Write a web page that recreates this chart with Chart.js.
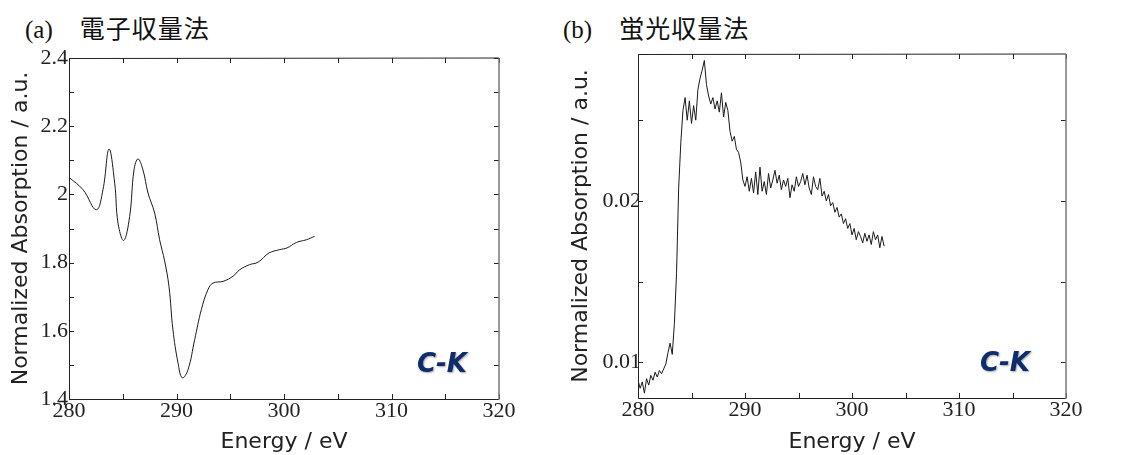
<!DOCTYPE html>
<html>
<head>
<meta charset="utf-8">
<script src="https://cdn.jsdelivr.net/npm/chart.js@4"></script>
<style>
  body { margin: 0; background: #fff; width: 1128px; height: 455px; position: relative; overflow: hidden; }
  .box { position: absolute; top: 0; }
  .ttl { position: absolute; top: 9px; color: #111; white-space: nowrap; }
  .ttl .lbl { font-family: "Liberation Serif", serif; font-size: 25px; }
  .ttl .jp { font-family: "Noto Sans CJK JP", sans-serif; font-size: 25px; margin-left: 27px; letter-spacing: 1px; }
  .ck { position: absolute; font-family: "DejaVu Sans", sans-serif; font-weight: bold; font-style: italic;
        font-size: 26px; color: #0f2d6b; text-shadow: 1px 1px 2px rgba(0,0,0,0.35); }
</style>
</head>
<body>
<div class="ttl" style="left:25px"><span class="lbl">(a)</span><span class="jp">電子収量法</span></div>
<div class="ttl" style="left:563px"><span class="lbl">(b)</span><span class="jp">蛍光収量法</span></div>
<div class="box" style="left:0"><canvas id="chartA" width="560" height="455"></canvas></div>
<div class="box" style="left:560px"><canvas id="chartB" width="568" height="455"></canvas></div>
<div class="ck" style="left:417px; top:348px">C-K</div>
<div class="ck" style="left:980px; top:347px">C-K</div>
<script>
// (a) electron yield
const energyA = [280.0, 281.3, 282.54, 283.16, 283.72, 284.25, 284.56, 285.09, 285.64, 286.05,
  286.42, 286.88, 287.35, 287.97, 288.43, 288.9, 289.3, 289.67, 290.14, 290.54,
  291.07, 291.69, 292.31, 292.93, 293.4, 294.33, 295.26, 295.88, 296.8, 297.58,
  298.6, 299.6, 300.28, 301.15, 302.08, 302.85];
const absA = [2.050, 2.014, 1.955, 2.014, 2.133, 2.033, 1.916, 1.865, 1.935, 2.072,
  2.104, 2.072, 2.004, 1.945, 1.867, 1.804, 1.730, 1.603, 1.506, 1.462,
  1.486, 1.574, 1.662, 1.721, 1.740, 1.745, 1.760, 1.779, 1.794, 1.801,
  1.828, 1.838, 1.843, 1.859, 1.867, 1.877];

// (b) fluorescence yield
const energyB = [280.0, 280.2, 280.4, 280.6, 280.8, 281.0, 281.2, 281.4, 281.6, 281.8,
  282.0, 282.2, 282.4, 282.6, 282.8, 283.0, 283.2, 283.4, 283.6, 283.8,
  284.0, 284.2, 284.4, 284.6, 284.8, 285.0, 285.2, 285.4, 285.6, 285.8,
  286.0, 286.2, 286.4, 286.6, 286.8, 287.0, 287.2, 287.4, 287.6, 287.8,
  288.0, 288.2, 288.4, 288.6, 288.8, 289.0, 289.2, 289.4, 289.6, 289.8,
  290.0, 290.2, 290.4, 290.6, 290.8, 291.0, 291.2, 291.4, 291.6, 291.8,
  292.0, 292.2, 292.4, 292.6, 292.8, 293.0, 293.2, 293.4, 293.6, 293.8,
  294.0, 294.2, 294.4, 294.6, 294.8, 295.0, 295.2, 295.4, 295.6, 295.8,
  296.0, 296.2, 296.4, 296.6, 296.8, 297.0, 297.2, 297.4, 297.6, 297.8,
  298.0, 298.2, 298.4, 298.6, 298.8, 299.0, 299.2, 299.4, 299.6, 299.8,
  300.0, 300.2, 300.4, 300.6, 300.8, 301.0, 301.2, 301.4, 301.6, 301.8,
  302.0, 302.2, 302.4, 302.6, 302.8, 303.0];
const absB = [0.0089, 0.0084, 0.0088, 0.0081, 0.0090, 0.0086, 0.0092, 0.0089, 0.0094, 0.0091,
  0.0095, 0.0093, 0.0096, 0.0099, 0.0106, 0.0112, 0.0105, 0.0124, 0.0155, 0.0208,
  0.0236, 0.0256, 0.0264, 0.0250, 0.0262, 0.0248, 0.0259, 0.0250, 0.0269, 0.0276,
  0.0281, 0.0287, 0.0272, 0.0265, 0.0260, 0.0264, 0.0257, 0.0262, 0.0255, 0.0267,
  0.0252, 0.0261, 0.0256, 0.0243, 0.0237, 0.0240, 0.0232, 0.0230, 0.0224, 0.0213,
  0.0209, 0.0215, 0.0206, 0.0214, 0.0205, 0.0218, 0.0204, 0.0221, 0.0206, 0.0212,
  0.0204, 0.0217, 0.0208, 0.0213, 0.0219, 0.0211, 0.0216, 0.0207, 0.0213, 0.0209,
  0.0214, 0.0202, 0.0210, 0.0206, 0.0215, 0.0209, 0.0212, 0.0217, 0.0210, 0.0216,
  0.0208, 0.0204, 0.0215, 0.0209, 0.0207, 0.0214, 0.0203, 0.0206, 0.0200, 0.0204,
  0.0197, 0.0199, 0.0193, 0.0196, 0.0190, 0.0192, 0.0186, 0.0189, 0.0183, 0.0186,
  0.0179, 0.0183, 0.0176, 0.0181, 0.0178, 0.0174, 0.0180, 0.0175, 0.0179, 0.0173,
  0.0181, 0.0176, 0.0179, 0.0171, 0.0178, 0.0172];

const xTicks = [280, 290, 300, 310, 320];

const near = (v, step) => Math.abs(v / step - Math.round(v / step)) < 1e-6;

// inward ticks on all four sides + frame
const frame = {
  id: "frame",
  afterDraw(chart, args, opts) {
    const { ctx, chartArea: a, scales } = chart;
    const len = 5;
    ctx.save();
    ctx.strokeStyle = "#222";
    ctx.lineWidth = 1;
    ctx.beginPath();
    scales.x.ticks.forEach((t) => {
      if (!near(t.value, 5)) return;
      const px = Math.round(scales.x.getPixelForValue(t.value)) + 0.5;
      ctx.moveTo(px, a.bottom); ctx.lineTo(px, a.bottom - len);
      ctx.moveTo(px, a.top); ctx.lineTo(px, a.top + len);
    });
    scales.y.ticks.forEach((t) => {
      if (!near(t.value, opts.yStep)) return;
      const py = Math.round(scales.y.getPixelForValue(t.value)) + 0.5;
      ctx.moveTo(a.left, py); ctx.lineTo(a.left + len, py);
      ctx.moveTo(a.right, py); ctx.lineTo(a.right - len, py);
    });
    ctx.stroke();
    ctx.beginPath();
    ctx.moveTo(a.right, a.top); ctx.lineTo(a.left + 0.5, a.top + 0.5);
    ctx.lineTo(a.left + 0.5, a.bottom + 0.5); ctx.lineTo(a.right, a.bottom + 0.5);
    ctx.stroke();
    ctx.strokeStyle = "#777";
    ctx.lineWidth = 1.5;
    ctx.beginPath();
    ctx.moveTo(a.right, a.top); ctx.lineTo(a.right, a.bottom + 1);
    ctx.stroke();
    ctx.restore();
  },
};

function makeChart(id, xs, ys, o) {
  return new Chart(document.getElementById(id), {
    type: "scatter",
    data: {
      datasets: [{
        data: xs.map((x, i) => ({ x: x, y: ys[i] })),
        showLine: true,
        borderColor: "#1a1a1a",
        borderWidth: 1,
        pointRadius: 0,
        tension: o.tension,
      }],
    },
    options: {
      responsive: false,
      animation: false,
      layout: { padding: { top: o.top, right: o.right, left: 0, bottom: 0 } },
      plugins: { legend: { display: false }, tooltip: { enabled: false }, frame: { yStep: o.yStep } },
      scales: {
        x: {
          type: "linear", min: 280, max: 320,
          afterFit: (s) => { s.height = o.xHeight; },
          grid: { display: false, drawTicks: false },
          border: { display: false },
          ticks: {
            stepSize: 5, autoSkip: false, maxRotation: 0, padding: -1, color: "#222",
            font: { family: "Liberation Serif", size: 22 },
            callback: (v) => (xTicks.includes(Math.round(v)) && near(v, 10) ? String(Math.round(v)) : ""),
          },
          title: {
            display: true, text: "Energy / eV", color: "#222",
            font: { family: "DejaVu Sans", size: 22 }, padding: { top: 0, bottom: 0 },
          },
        },
        y: {
          type: "linear", min: o.yMin, max: o.yMax,
          afterFit: (s) => { s.width = o.yWidth; },
          grid: { display: false, drawTicks: false },
          border: { display: false },
          ticks: {
            stepSize: o.yStep, autoSkip: false, padding: o.yPad, color: "#222",
            font: { family: "Liberation Serif", size: 22 },
            callback: o.yLabel,
          },
          title: {
            display: true, text: "Normalized Absorption / a.u.", color: "#222",
            font: { family: "DejaVu Sans", size: 22 }, padding: { top: 8, bottom: 0 },
          },
        },
      },
    },
    plugins: [frame],
  });
}

makeChart("chartA", energyA, absA, {
  tension: 0.4, top: 58, right: 61, xHeight: 56, yWidth: 69, yPad: 1,
  yMin: 1.4, yMax: 2.4, yStep: 0.1,
  yLabel: (v) => (near(v, 0.2) ? String(Math.round(v * 10) / 10) : ""),
});

makeChart("chartB", energyB, absB, {
  tension: 0, top: 54, right: 62, xHeight: 57, yWidth: 78, yPad: -3,
  yMin: 0.0078, yMax: 0.0291, yStep: 0.005,
  yLabel: (v) => (near(v, 0.01) ? String(Math.round(v * 100) / 100) : ""),
});
</script>
</body>
</html>
